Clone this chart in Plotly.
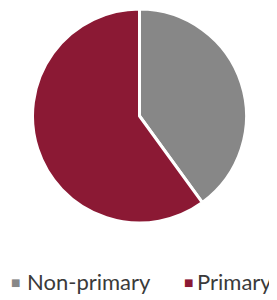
import plotly.graph_objects as go

labels = ["Non-primary", "Primary"]
values = [40, 60]
colors = ["#878787", "#8B1934"]

W, H = 277, 300
M = dict(l=24, r=38, t=1, b=85)
PW = W - M["l"] - M["r"]
PH = H - M["t"] - M["b"]

def px(x):
    return (x - M["l"]) / PW

def py(y):
    return (H - M["b"] - y) / PH

fig = go.Figure(go.Pie(
    labels=labels, values=values, sort=False, direction="clockwise", rotation=0,
    marker=dict(colors=colors, line=dict(color="white", width=3)),
    textinfo="none", hoverinfo="label+percent", showlegend=False,
))

# legend drawn as text keys (figure pixel positions; page is offset by 8px body margin)
key_x = [7, 180]
text_x = [17, 187]
annotations = []
for lab, col, kx, tx in zip(labels, colors, key_x, text_x):
    annotations.append(dict(
        text="■", x=px(kx), y=py(274), xref="paper", yref="paper",
        xanchor="center", yanchor="middle", showarrow=False,
        font=dict(family="DejaVu Sans", size=10, color=col)))
    annotations.append(dict(
        text=lab, x=px(tx), y=py(273), xref="paper", yref="paper",
        xanchor="left", yanchor="middle", showarrow=False,
        font=dict(family="Lato", size=22, color="#3a3a3a")))

fig.update_layout(
    width=W, height=H,
    margin=dict(**M, autoexpand=False),
    paper_bgcolor="white", plot_bgcolor="white",
    showlegend=False,
    annotations=annotations,
)
fig.write_html("out.html")
